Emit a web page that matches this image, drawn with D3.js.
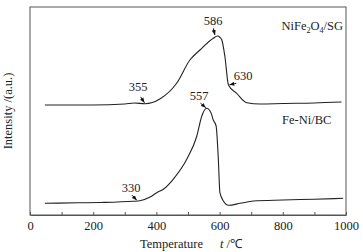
<!DOCTYPE html>
<html><head><meta charset="utf-8">
<script src="https://cdn.jsdelivr.net/npm/d3@7"></script>
<style>body{margin:0;background:#fff}svg{display:block}text{font-family:"Liberation Serif","Times New Roman",serif;fill:#222}</style>
</head><body><svg id="c" width="363" height="252"></svg>
<script>
const xTicks = [0,100,200,300,400,500,600,700,800,900,1000];
const xTickLabels = ["0","","200","","400","","600","","800","","1000"];
// temperature (°C)
const tempSG = [47,200,300,330,364,411,464,506,538,580,593,600,607,617,628,654,686,728,800,900,986];
const intSG  = [110,110,111,112,111.3,116,131.7,155,165,176.7,179,178,175,158,130,121.7,112.3,111,111.5,112,113];
const tempBC = [47,150,222,327,348,380,401,422,453,496,528,543,559,573,580,589,596,601,612,628,665,707,800,900,991];
const intBC  = [11.7,12.2,12.5,13.7,14.3,18,22.3,25.7,35.7,55.7,79,98.3,106.7,102,95,89,55.7,22.3,14,9.7,11.7,14,15,15.8,16.7];
const peakLabels = [
  {text:"586", t:586, v:179, lx:213, ly:25},
  {text:"355", t:364, v:111.5, lx:138, ly:91},
  {text:"630", t:628, v:130, lx:243, ly:80},
  {text:"557", t:559, v:106.7, lx:199, ly:100},
  {text:"330", t:340, v:14, lx:131, ly:192}
];
const seriesNames = ["NiFe\u2082O\u2084/SG","Fe-Ni/BC"];

const svg = d3.select("#c");
const L=30,R=346,T=7,B=215;
const x = d3.scaleLinear().domain([0,1000]).range([L,R]);
const y = d3.scaleLinear().domain([0,208]).range([B,T]);

svg.append("defs").append("marker").attr("id","ah").attr("viewBox","0 0 10 10")
  .attr("refX",10).attr("refY",5).attr("markerWidth",5).attr("markerHeight",5).attr("orient","auto")
  .append("path").attr("d","M0,1L10,5L0,9Z").attr("fill","#111");

svg.append("rect").attr("x",L).attr("y",T).attr("width",R-L).attr("height",B-T)
  .attr("fill","none").attr("stroke","#555").attr("stroke-width",1);

const ax = svg.append("g").attr("transform",`translate(0,${B})`)
  .call(d3.axisBottom(x).tickValues(xTicks).tickSizeInner(-3).tickSizeOuter(0).tickPadding(6)
    .tickFormat((d,i)=>xTickLabels[i]));
ax.select(".domain").attr("stroke","#555");
ax.selectAll(".tick line").attr("stroke","#555");
ax.selectAll(".tick text").attr("font-size",12.5).attr("fill","#222").attr("font-family","Liberation Serif");

const line = d3.line().curve(d3.curveMonotoneX);
[[tempSG,intSG],[tempBC,intBC]].forEach(([ts,vs])=>{
  svg.append("path").attr("d",line(ts.map((t,i)=>[x(t),y(vs[i])])))
    .attr("fill","none").attr("stroke","#222").attr("stroke-width",1.1);
});

peakLabels.forEach(p=>{
  const tx=x(p.t), ty=y(p.v);
  svg.append("text").attr("x",p.lx).attr("y",p.ly).attr("text-anchor","middle").attr("font-size",12.5).text(p.text);
  const sx = p.lx + (tx-p.lx)*0.0, sy = p.ly+2;
  const dx=tx-p.lx, dy=ty-sy;
  const len=Math.hypot(dx,dy);
  const start=[tx-dx/len*Math.min(len,8), ty-dy/len*Math.min(len,8)];
  const end=[tx-dx/len*1, ty-dy/len*1];
  svg.append("line").attr("x1",start[0]).attr("y1",start[1]).attr("x2",end[0]).attr("y2",end[1])
    .attr("stroke","#111").attr("stroke-width",1).attr("marker-end","url(#ah)");
});

svg.append("text").attr("x",343).attr("y",30).attr("text-anchor","end").attr("font-size",12.5)
  .html('NiFe<tspan baseline-shift="-3" font-size="8">2</tspan>O<tspan baseline-shift="-3" font-size="8">4</tspan>/SG');
svg.append("text").attr("x",282).attr("y",124).attr("font-size",12.5).text(seriesNames[1]);

svg.append("text").attr("transform","translate(12,111) rotate(-90)").attr("text-anchor","middle")
  .attr("font-size",12.5).text("Intensity /(a.u.)");
const xt = svg.append("text").attr("x",140).attr("y",248).attr("font-size",12.5);
xt.append("tspan").text("Temperature");
xt.append("tspan").attr("x",220).attr("font-style","italic").text("t");
xt.append("tspan").text(" /\u2103");
</script></body></html>
